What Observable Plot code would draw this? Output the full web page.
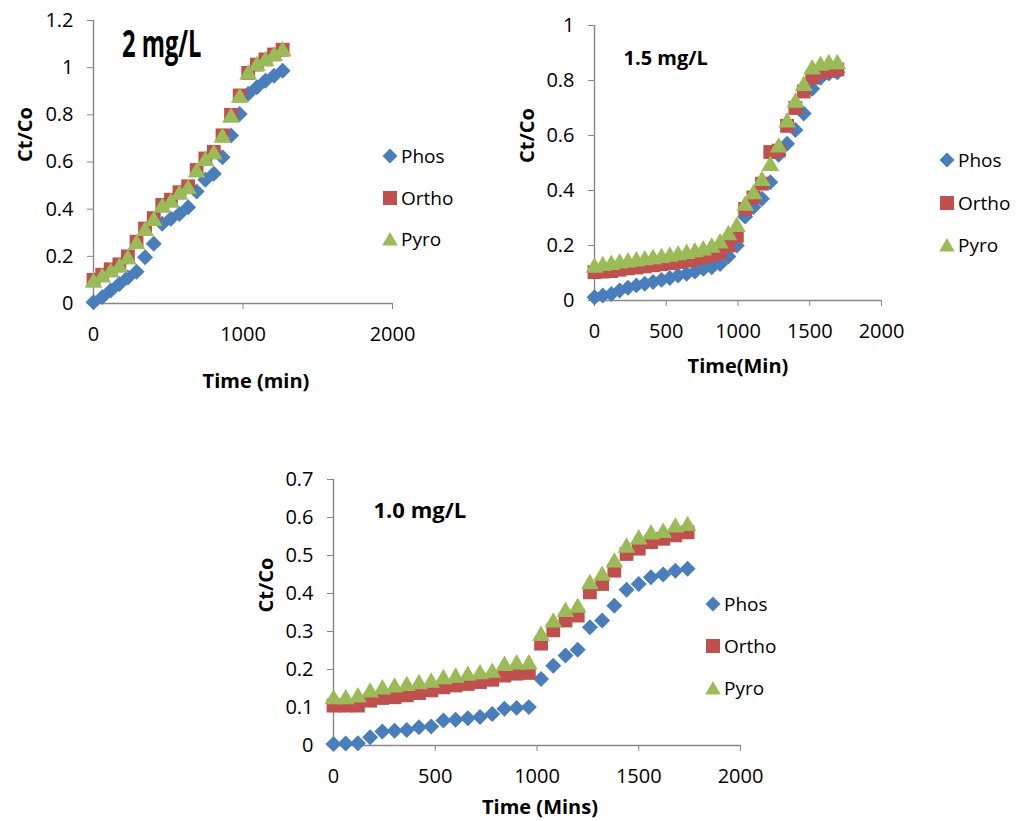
<!DOCTYPE html>
<html><head><meta charset="utf-8">
<script src="https://cdn.jsdelivr.net/npm/d3@7"></script>
<script src="https://cdn.jsdelivr.net/npm/@observablehq/plot@0.6"></script>
<style>
html,body{margin:0;padding:0;background:#fff;}
#page{position:relative;width:1030px;height:821px;overflow:hidden;font-family:"Open Sans",sans-serif;background:#fff;}
.panel{position:absolute;}
.leg{position:absolute;display:flex;align-items:center;font-size:19px;color:#000;line-height:1;height:20px;white-space:nowrap;}
.leg svg{margin-right:3px;}
.big{position:absolute;font-family:"Open Sans",sans-serif;font-weight:700;font-size:37px;line-height:1;transform-origin:left top;transform:scaleX(0.64);white-space:nowrap;}
</style></head><body><div id="page"></div>
<script>
const series = ["Phos", "Ortho", "Pyro"];
const colors = ["#4A7EBB", "#C0504D", "#9BBB59"];
const symbols = ["diamond2", "square", "triangle"];

// Panel A: 2 mg/L
const timeA = [0, 58, 115, 173, 230, 288, 345, 403, 460, 518, 575, 633, 690, 748, 805, 863, 920, 978, 1035, 1093, 1150, 1208, 1265];
const phosA = [0.005, 0.027, 0.055, 0.083, 0.11, 0.135, 0.196, 0.253, 0.338, 0.359, 0.38, 0.408, 0.475, 0.525, 0.55, 0.62, 0.712, 0.804, 0.889, 0.917, 0.945, 0.966, 0.987];
const orthoA = [0.1, 0.122, 0.145, 0.166, 0.2, 0.262, 0.318, 0.362, 0.418, 0.44, 0.472, 0.497, 0.566, 0.615, 0.643, 0.713, 0.8, 0.882, 0.978, 1.013, 1.035, 1.056, 1.076];
const pyroA = [0.097, 0.119, 0.14, 0.161, 0.196, 0.26, 0.316, 0.359, 0.415, 0.436, 0.47, 0.493, 0.564, 0.613, 0.641, 0.712, 0.797, 0.881, 0.98, 1.016, 1.037, 1.058, 1.079];

// Panel B: 1.5 mg/L
const timeB = [0, 58, 117, 175, 233, 292, 350, 408, 467, 525, 583, 642, 700, 758, 817, 875, 933, 992, 1050, 1108, 1167, 1225, 1283, 1342, 1400, 1458, 1517, 1575, 1633, 1692];
const phosB = [0.012, 0.018, 0.024, 0.036, 0.046, 0.055, 0.061, 0.067, 0.075, 0.082, 0.091, 0.097, 0.105, 0.115, 0.121, 0.133, 0.16, 0.2, 0.305, 0.34, 0.37, 0.43, 0.53, 0.57, 0.62, 0.68, 0.77, 0.81, 0.825, 0.83];
const orthoB = [0.103, 0.105, 0.107, 0.112, 0.117, 0.12, 0.124, 0.128, 0.132, 0.136, 0.14, 0.145, 0.15, 0.158, 0.165, 0.175, 0.2, 0.235, 0.333, 0.375, 0.425, 0.54, 0.545, 0.635, 0.7, 0.76, 0.81, 0.83, 0.835, 0.84];
const pyroB = [0.127, 0.133, 0.137, 0.142, 0.146, 0.15, 0.154, 0.158, 0.162, 0.167, 0.172, 0.177, 0.183, 0.19, 0.2, 0.215, 0.245, 0.275, 0.352, 0.394, 0.442, 0.497, 0.564, 0.655, 0.727, 0.788, 0.848, 0.861, 0.867, 0.867];

// Panel C: 1.0 mg/L
const timeC = [0, 60, 120, 180, 240, 300, 360, 420, 480, 540, 600, 660, 720, 780, 840, 900, 960, 1020, 1080, 1140, 1200, 1260, 1320, 1380, 1440, 1500, 1560, 1620, 1680, 1740];
const phosC = [0.004, 0.005, 0.006, 0.022, 0.037, 0.039, 0.041, 0.048, 0.05, 0.066, 0.068, 0.072, 0.075, 0.083, 0.097, 0.099, 0.101, 0.175, 0.21, 0.237, 0.252, 0.311, 0.329, 0.368, 0.41, 0.425, 0.443, 0.45, 0.46, 0.465];
const orthoC = [0.105, 0.105, 0.105, 0.118, 0.125, 0.127, 0.132, 0.138, 0.145, 0.153, 0.158, 0.162, 0.167, 0.173, 0.184, 0.189, 0.191, 0.268, 0.303, 0.329, 0.342, 0.403, 0.425, 0.46, 0.504, 0.518, 0.535, 0.544, 0.553, 0.561];
const pyroC = [0.127, 0.127, 0.132, 0.145, 0.153, 0.158, 0.162, 0.167, 0.171, 0.18, 0.184, 0.189, 0.193, 0.197, 0.215, 0.219, 0.219, 0.294, 0.329, 0.357, 0.368, 0.43, 0.452, 0.487, 0.526, 0.548, 0.561, 0.565, 0.579, 0.583];

const xTicks = [0, 1000, 2000];
const xTicksB = [0, 500, 1000, 1500, 2000];
const yTicksA = [0, 0.2, 0.4, 0.6, 0.8, 1, 1.2];
const yTicksB = [0, 0.2, 0.4, 0.6, 0.8, 1];
const yTicksC = [0, 0.1, 0.2, 0.3, 0.4, 0.5, 0.6, 0.7];

const page = document.getElementById("page");

function rowsOf(times, lists) {
  return series.map((s, i) => times.map((t, j) => ({series: s, t, v: lists[i][j]})));
}

function makePanel(cfg) {
  const rows = rowsOf(cfg.times, cfg.lists);
  const axisColor = "#868686";
  const dotMarks = [
    Plot.dot(rows[0], {x: "t", y: "v", fill: colors[0], symbol: symbols[0], r: 7.2}),
    Plot.dot(rows[1], {x: "t", y: "v", fill: colors[1], symbol: symbols[1], r: 7.8}),
    Plot.dot(rows[2], {x: "t", y: "v", fill: colors[2], symbol: symbols[2], r: 6.6, dy: 2})
  ];
  const svg = Plot.plot({
    width: cfg.width, height: cfg.height,
    marginLeft: cfg.ml, marginRight: cfg.mr, marginTop: cfg.mt, marginBottom: cfg.mb,
    style: {fontFamily: "Open Sans, sans-serif", fontSize: "20px", color: "#000", background: "transparent", overflow: "visible"},
    x: {domain: [0, 2000]},
    y: {domain: cfg.yDomain},
    marks: [
      Plot.axisX({ticks: cfg.xTicks, tickFormat: d => String(d), tickSize: 6, tickPadding: 17, stroke: axisColor, label: null, fontSize: 20}),
      Plot.axisY({ticks: cfg.yTicks, tickFormat: d => String(d), tickSize: 6, tickPadding: 14, stroke: axisColor, label: null, fontSize: 20}),
      Plot.ruleY([0], {stroke: axisColor, strokeWidth: 1.4}),
      Plot.ruleX([0], {stroke: axisColor, strokeWidth: 1.4}),
      ...dotMarks,
      Plot.text([cfg.xTitle], {frameAnchor: "bottom", dx: cfg.xTitleDx, dy: cfg.xTitleDy, fontWeight: "bold", fontSize: 20, lineAnchor: "middle"}),
      Plot.text([cfg.yTitle], {frameAnchor: "left", dx: cfg.yTitleDx, rotate: -90, fontWeight: "bold", fontSize: 20, lineAnchor: "middle"}),
      ...(cfg.note ? [Plot.text([cfg.note], {frameAnchor: "top-left", dx: cfg.noteDx, dy: cfg.noteDy, textAnchor: "start", lineAnchor: "middle", fontWeight: "bold", fontSize: cfg.noteSize})] : [])
    ]
  });
  svg.classList.add("panel");
  svg.style.left = cfg.left + "px";
  svg.style.top = cfg.top + "px";
  svg.style.position = "absolute";
  svg.style.maxWidth = "none";
  page.appendChild(svg);
}

function symbolSvg(i) {
  const size = 16;
  let shape;
  if (i === 0) shape = `<polygon points="8,0.5 15.5,8 8,15.5 0.5,8" fill="${colors[0]}"/>`;
  else if (i === 1) shape = `<rect x="1" y="1" width="14" height="14" fill="${colors[1]}"/>`;
  else shape = `<polygon points="8,1 15.8,14.5 0.2,14.5" fill="${colors[2]}"/>`;
  return `<svg width="${size}" height="${size}" viewBox="0 0 16 16">${shape}</svg>`;
}

function makeLegend(left, tops) {
  series.forEach((s, i) => {
    const d = document.createElement("div");
    d.className = "leg";
    d.style.left = left + "px";
    d.style.top = (tops[i] - 10) + "px";
    d.innerHTML = symbolSvg(i) + `<span>${s}</span>`;
    page.appendChild(d);
  });
}

// Panel A
makePanel({
  times: timeA, lists: [phosA, orthoA, pyroA],
  left: 0, top: 0, width: 480, height: 400, ml: 93, mr: 88, mt: 20, mb: 97,
  yDomain: [0, 1.2], yTicks: yTicksA, xTicks: xTicks,
  xTitle: "Time (min)", xTitleDx: 13, xTitleDy: 78,
  yTitle: "Ct/Co", yTitleDx: -68
});
const big = document.createElement("div");
big.className = "big";
big.textContent = "2 mg/L";
big.style.left = "122px";
big.style.top = "24px";
page.appendChild(big);
makeLegend(382, [156, 198, 239]);

// Panel B
makePanel({
  times: timeB, lists: [phosB, orthoB, pyroB],
  left: 500, top: 0, width: 530, height: 400, ml: 94, mr: 149, mt: 25, mb: 100,
  yDomain: [0, 1], yTicks: yTicksB, xTicks: xTicksB,
  xTitle: "Time(Min)", xTitleDx: 0, xTitleDy: 66,
  yTitle: "Ct/Co", yTitleDx: -67,
  note: "1.5 mg/L", noteDx: 29, noteDy: 33, noteSize: 20
});
makeLegend(939, [160, 203, 245]);

// Panel C
makePanel({
  times: timeC, lists: [phosC, orthoC, pyroC],
  left: 240, top: 440, width: 560, height: 381, ml: 93, mr: 60, mt: 39, mb: 76,
  yDomain: [0, 0.7], yTicks: yTicksC, xTicks: xTicksB,
  xTitle: "Time (Mins)", xTitleDx: 3, xTitleDy: 62,
  yTitle: "Ct/Co", yTitleDx: -67,
  note: "1.0 mg/L", noteDx: 40, noteDy: 31, noteSize: 22
});
makeLegend(705, [604, 646, 688]);
</script>
</body></html>
